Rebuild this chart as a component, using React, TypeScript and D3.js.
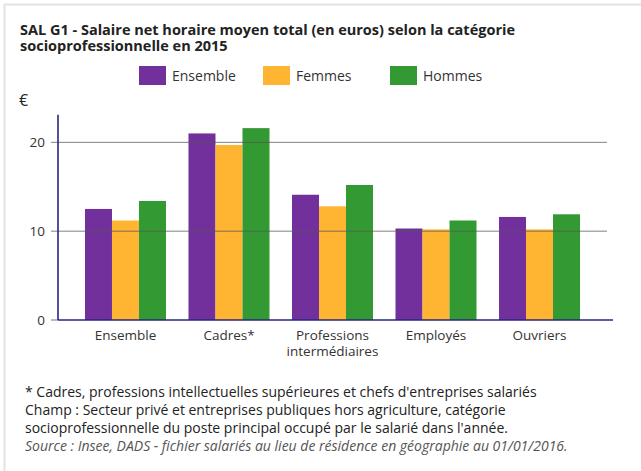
import React from "react";
import * as d3 from "d3";

const categories = ["Ensemble", "Cadres*", "Professions\nintermédiaires", "Employés", "Ouvriers"];
const seriesNames = ["Ensemble", "Femmes", "Hommes"];
const seriesColors = ["#71309b", "#ffb532", "#339933"];
const ensembleValues = [12.5, 21.0, 14.1, 10.3, 11.6];
const femmesValues = [11.2, 19.7, 12.8, 10.2, 10.2];
const hommesValues = [13.4, 21.6, 15.2, 11.2, 11.9];
const yTicks = [0, 10, 20];
const titleLines = [
  "SAL G1 - Salaire net horaire moyen total (en euros) selon la catégorie",
  "socioprofessionnelle en 2015",
];
const footnoteLines = [
  "* Cadres, professions intellectuelles supérieures et chefs d'entreprises salariés",
  "Champ : Secteur privé et entreprises publiques hors agriculture, catégorie",
  "socioprofessionnelle du poste principal occupé par le salarié dans l'année.",
];
const sourceLine = "Source : Insee, DADS - fichier salariés au lieu de résidence en géographie au 01/01/2016.";

const W = 641;
const H = 471;
const FONT = "'Open Sans', 'Noto Sans', sans-serif";

export default function App() {
  const series = [ensembleValues, femmesValues, hommesValues];
  const plotLeft = 58;
  const plotRight = 607;
  const x0 = d3
    .scaleBand<number>()
    .domain(d3.range(categories.length))
    .range([plotLeft, plotRight])
    .paddingInner(0.2174)
    .paddingOuter(0.2607);
  const x1 = d3
    .scaleBand<number>()
    .domain(d3.range(seriesNames.length))
    .range([0, x0.bandwidth()]);
  const y = d3.scaleLinear().domain([0, 23.1]).range([320, 114.8]);

  const legendX = [139, 263, 390];

  return (
    <svg
      width={W}
      height={H}
      style={{ position: "absolute", left: 0, top: 0, background: "#fff" }}
      fontFamily={FONT}
    >
      <rect x={0} y={0} width={W} height={H} fill="#fff" />
      {/* frame */}
      <line x1={4.5} y1={4} x2={4.5} y2={H} stroke="#e2e2e2" strokeWidth={2} />
      <line x1={4} y1={4.5} x2={W} y2={4.5} stroke="#e2e2e2" strokeWidth={2} />

      {/* title */}
      {titleLines.map((t, i) => (
        <text key={i} x={20} y={35 + i * 16} fontSize={14.5} fontWeight="bold" fill="#222">
          {t}
        </text>
      ))}

      {/* legend */}
      {seriesNames.map((name, i) => (
        <g key={name}>
          <rect x={legendX[i]} y={66} width={27} height={19} fill={seriesColors[i]} />
          <text x={legendX[i] + 33} y={80.5} fontSize={14} fill="#333">
            {name}
          </text>
        </g>
      ))}

      {/* unit */}
      <text x={19} y={106} fontSize={16} fill="#222">€</text>

      {/* bars */}
      {categories.map((c, ci) => (
        <g key={ci} transform={`translate(${x0(ci)},0)`}>
          {series.map((vals, si) => (
            <rect
              key={si}
              x={x1(si)}
              y={y(vals[ci])}
              width={x1.bandwidth()}
              height={y(0) - y(vals[ci])}
              fill={seriesColors[si]}
            />
          ))}
        </g>
      ))}

      {/* gridlines and ticks */}
      {yTicks.map((t) => (
        <g key={t}>
          {t > 0 ? (
            <line x1={51} x2={plotRight} y1={y(t)} y2={y(t)} stroke="#555" strokeOpacity={0.75} strokeWidth={1} />
          ) : (
            <line x1={51} x2={plotLeft} y1={y(t)} y2={y(t)} stroke="#777" strokeWidth={1} />
          )}
          <text x={45} y={y(t)} dy="0.35em" textAnchor="end" fontSize={13.5} fill="#333">
            {t}
          </text>
        </g>
      ))}

      {/* axes */}
      <line x1={plotLeft} x2={plotLeft} y1={y(23.1)} y2={y(0)} stroke="#262680" strokeWidth={1.6} />
      <line x1={plotLeft} x2={613} y1={y(0)} y2={y(0)} stroke="#262680" strokeWidth={1.6} />

      {/* x labels */}
      {categories.map((c, ci) => (
        <text
          key={ci}
          x={(x0(ci) as number) + x0.bandwidth() / 2}
          y={340}
          textAnchor="middle"
          fontSize={13.5}
          fill="#333"
        >
          {c.split("\n").map((l, li) => (
            <tspan key={li} x={(x0(ci) as number) + x0.bandwidth() / 2} dy={li === 0 ? 0 : 16}>
              {l}
            </tspan>
          ))}
        </text>
      ))}

      {/* footnotes */}
      {footnoteLines.map((l, i) => (
        <text key={i} x={25} y={397 + i * 18} fontSize={14} fill="#222">
          {l}
        </text>
      ))}
      <text x={25} y={451} fontSize={14} fontStyle="italic" fill="#555">
        {sourceLine}
      </text>
    </svg>
  );
}
